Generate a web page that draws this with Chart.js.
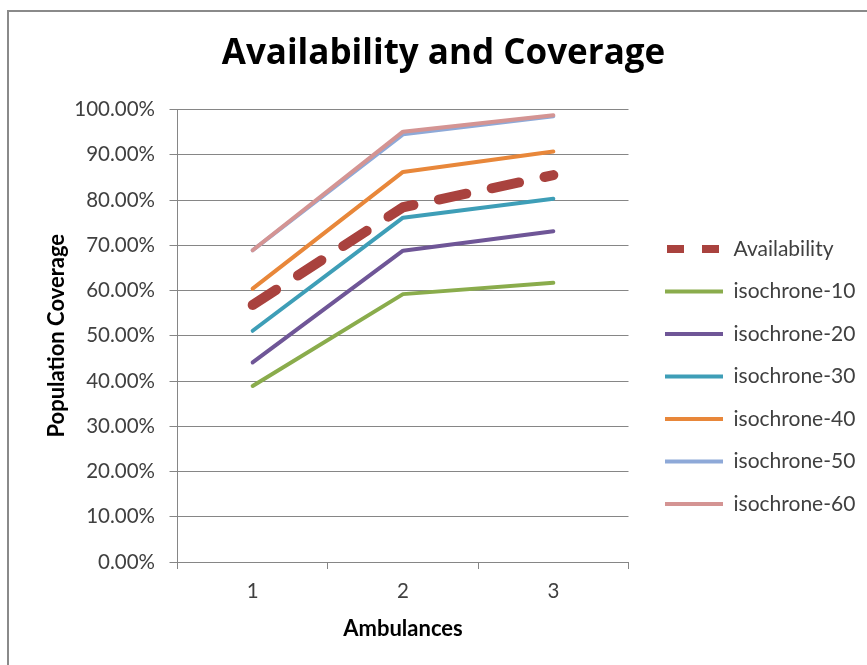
<!DOCTYPE html>
<html>
<head>
<meta charset="utf-8">
<title>Availability and Coverage</title>
<script src="https://cdn.jsdelivr.net/npm/chart.js@4/dist/chart.umd.min.js"></script>
<style>
  html, body { margin: 0; padding: 0; background: #ffffff; }
  canvas { display: block; }
</style>
</head>
<body>
<canvas id="chart" width="867" height="665"></canvas>
<script>
// Number of ambulances on the x axis
const categories = ['1', '2', '3'];

// Population coverage, in percent
const availability = [56.8, 78.4, 85.5];
const isochrone10 = [38.9, 59.2, 61.7];
const isochrone20 = [44.1, 68.8, 73.1];
const isochrone30 = [51.1, 76.1, 80.3];
const isochrone40 = [60.4, 86.2, 90.7];
const isochrone50 = [68.9, 94.5, 98.5];
const isochrone60 = [68.9, 95.1, 98.75];

const seriesNames = ['Availability', 'isochrone-10', 'isochrone-20', 'isochrone-30',
                     'isochrone-40', 'isochrone-50', 'isochrone-60'];
const seriesValues = [availability, isochrone10, isochrone20, isochrone30,
                      isochrone40, isochrone50, isochrone60];
const seriesColors = ['#A9423E', '#8AAC4C', '#6F5697', '#3E9EB7', '#E8873A', '#8EA9D8', '#D49493'];

const GRID = '#868686';
const TEXT = '#404040';

Chart.defaults.font.family = 'Lato, "Open Sans", sans-serif';

// Thin grey frame around the whole chart object
const chartFrame = {
  id: 'chartFrame',
  beforeDraw(chart) {
    const ctx = chart.ctx;
    ctx.save();
    ctx.fillStyle = '#ffffff';
    ctx.fillRect(0, 0, chart.width, chart.height);
    ctx.strokeStyle = '#8A8A8A';
    ctx.lineWidth = 2;
    ctx.strokeRect(8, 11, chart.width + 20, chart.height + 20);
    ctx.restore();
  }
};

// Moves the legend column next to the plot, a little right and down,
// and lets it use the rest of the width so no label gets cut
const legendNudge = {
  id: 'legendNudge',
  afterLayout(chart, args, opts) {
    const lg = chart.legend;
    if (!lg) return;
    lg.left += opts.x;
    lg.right = chart.width;
    lg.top += opts.y;
    lg.bottom += opts.y;
  }
};

const datasets = seriesNames.map((name, i) => {
  const dashed = i === 0;
  return {
    label: name,
    data: seriesValues[i],
    borderColor: seriesColors[i],
    backgroundColor: seriesColors[i],
    borderWidth: dashed ? 10 : 4,
    borderDash: dashed ? [28, 26] : undefined,
    borderCapStyle: 'round',
    borderJoinStyle: 'round',
    pointRadius: 0,
    pointHoverRadius: 0,
    tension: 0,
    fill: false,
    order: seriesNames.length - i
  };
});

new Chart(document.getElementById('chart'), {
  type: 'line',
  data: { labels: categories, datasets },
  options: {
    responsive: false,
    animation: false,
    devicePixelRatio: 1,
    layout: { padding: { left: 43.5, right: 23.5, top: 0, bottom: 0 } },
    plugins: {
      title: {
        display: true,
        text: 'Availability and Coverage',
        color: '#000000',
        font: { family: '"Open Sans", Lato, sans-serif', size: 35, weight: 'bold' },
        padding: { top: 33, bottom: 34.5 }
      },
      legend: {
        position: 'right',
        maxWidth: 215,
        labels: {
          usePointStyle: true,
          pointStyle: 'line',
          pointStyleWidth: 58,
          color: TEXT,
          font: { size: 21 },
          padding: 21.5,
          sort: (a, b) => a.datasetIndex - b.datasetIndex,
          generateLabels(chart) {
            const items = Chart.defaults.plugins.legend.labels.generateLabels(chart);
            items.forEach(it => {
              const ds = chart.data.datasets[it.datasetIndex];
              if (ds.borderDash) {
                it.lineDash = [17, 18];
                it.lineDashOffset = -2;
                it.lineWidth = 8;
              }
            });
            return items;
          }
        }
      },
      tooltip: { enabled: false },
      legendNudge: { x: 15, y: 44 }
    },
    scales: {
      x: {
        offset: true,
        ticks: { color: TEXT, font: { size: 20.5 }, padding: 10 },
        grid: { offset: true, drawOnChartArea: false, tickLength: 7, color: GRID },
        border: { color: GRID },
        title: {
          display: true,
          text: 'Ambulances',
          color: '#000000',
          font: { size: 22, weight: 'bold' },
          padding: { top: 0, bottom: 22.5 }
        },
        afterFit(scale) { scale.height = 103; }
      },
      y: {
        min: 0,
        max: 100,
        ticks: {
          stepSize: 10,
          color: TEXT,
          font: { size: 20.5 },
          padding: 14.5,
          callback: v => v.toFixed(2) + '%'
        },
        grid: { color: GRID, tickLength: 8 },
        border: { color: GRID },
        title: {
          display: true,
          text: 'Population Coverage',
          color: '#000000',
          font: { size: 22, weight: 'bold' },
          padding: 0
        },
        afterFit(scale) { scale.width = 134; }
      }
    }
  },
  plugins: [chartFrame, legendNudge]
});
</script>
</body>
</html>
